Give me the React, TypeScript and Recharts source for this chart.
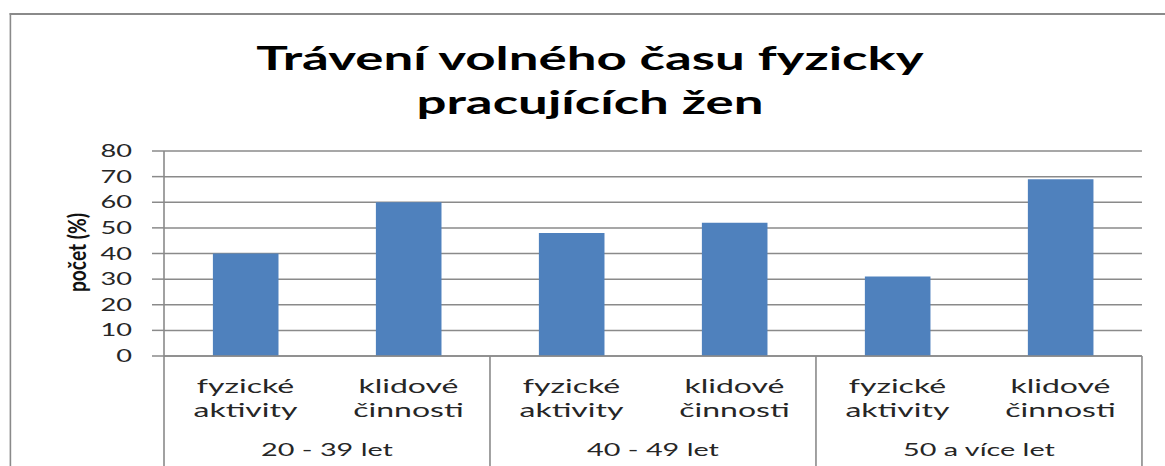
import { Bar, BarChart, CartesianGrid, XAxis, YAxis } from "recharts";

// the source picture is stretched sideways, so the chart is drawn narrow and widened with CSS
const STRETCH = 1.6;
const FULL_W = 1165;
const FULL_H = 466;
const CHART_W = FULL_W / STRETCH;
const Y_AXIS_W = 102.5;
const RIGHT_PAD = 14.4;
const X_AXIS_H = 110;
const TOP_PAD = 151;

const activityLines = [
  ["fyzické", "aktivity"],
  ["klidové", "činnosti"],
];
const ageGroups = ["20 - 39 let", "40 - 49 let", "50 a více let"];
const shares = [40, 60, 48, 52, 31, 69];
const yTicks = [0, 10, 20, 30, 40, 50, 60, 70, 80];

const data = ageGroups.flatMap((group, gi) =>
  activityLines.map((lines, ai) => ({
    key: `${gi}-${ai}`,
    lines,
    group,
    first: ai === 0,
    last: gi === ageGroups.length - 1 && ai === activityLines.length - 1,
    value: shares[gi * activityLines.length + ai],
  }))
);

const plotW = CHART_W - Y_AXIS_W - RIGHT_PAD;
const band = plotW / data.length;
const lineColor = "#8a8a8a";
const textColor = "#262626";
const font = "Lato, 'Open Sans', sans-serif";

function CategoryTick(props: any) {
  const { x, y, payload } = props;
  const d = data[payload?.index ?? props.index];
  if (!d) return null;
  return (
    <g>
      <text x={x} y={y + 37} textAnchor="middle" fill={textColor} fontSize={20} fontFamily={font}>
        {d.lines[0]}
      </text>
      <text x={x} y={y + 61} textAnchor="middle" fill={textColor} fontSize={20} fontFamily={font}>
        {d.lines[1]}
      </text>
      {d.first && (
        <>
          <line x1={x - band / 2} x2={x - band / 2} y1={y} y2={y + X_AXIS_H} stroke={lineColor} strokeWidth={1} />
          <text x={x + band / 2} y={y + 100} textAnchor="middle" fill={textColor} fontSize={18} fontFamily={font}>
            {d.group}
          </text>
        </>
      )}
      {d.last && (
        <line x1={x + band / 2} x2={x + band / 2} y1={y} y2={y + X_AXIS_H} stroke={lineColor} strokeWidth={1} />
      )}
    </g>
  );
}

function AxisTitle() {
  const cx = 47.5;
  const cy = 252.5;
  return (
    <text
      transform={`translate(${cx},${cy}) rotate(-90) scale(1.2,1)`}
      textAnchor="middle"
      dominantBaseline="central"
      fill="#111"
      fontSize={16}
      fontWeight={700}
      fontFamily={font}
    >
      počet (%)
    </text>
  );
}

export default function App() {
  return (
    <div
      style={{
        position: "absolute",
        left: 0,
        top: 0,
        width: FULL_W,
        height: FULL_H,
        overflow: "hidden",
        background: "#fff",
      }}
    >
      <div
        style={{
          position: "relative",
          width: CHART_W,
          height: FULL_H,
          transform: `scaleX(${STRETCH})`,
          transformOrigin: "0 0",
        }}
      >
        <div
          style={{
            position: "absolute",
            left: 6.3,
            top: 13,
            width: CHART_W + 20,
            height: FULL_H + 20,
            borderLeft: `1.5px solid ${lineColor}`,
            borderTop: `2px solid ${lineColor}`,
          }}
        />
        <div
          style={{
            position: "absolute",
            left: 590 / STRETCH - 300,
            width: 600,
            top: 35,
            textAlign: "center",
            fontFamily: font,
            fontWeight: 700,
            fontSize: 33,
            lineHeight: "44px",
            color: "#000",
          }}
        >
          Trávení volného času fyzicky
          <br />
          pracujících žen
        </div>
        <div style={{ position: "absolute", left: 0, top: 0 }}>
          <BarChart
            width={CHART_W}
            height={FULL_H}
            data={data}
            margin={{ top: TOP_PAD, right: RIGHT_PAD, bottom: 0, left: 0 }}
            barCategoryGap="30%"
          >
            <CartesianGrid vertical={false} stroke={lineColor} strokeWidth={1.5} />
            <XAxis
              dataKey="key"
              height={X_AXIS_H}
              interval={0}
              tickLine={false}
              tickSize={0}
              tickMargin={0}
              axisLine={{ stroke: lineColor, strokeWidth: 1.5 }}
              tick={<CategoryTick />}
            />
            <YAxis
              width={Y_AXIS_W}
              domain={[0, 80]}
              ticks={yTicks}
              interval={0}
              tickSize={7.5}
              tickMargin={12.5}
              tickLine={{ stroke: lineColor, strokeWidth: 1.5 }}
              axisLine={{ stroke: lineColor, strokeWidth: 1 }}
              tick={{ fill: textColor, fontSize: 17, fontFamily: font }}
              label={<AxisTitle />}
            />
            <Bar dataKey="value" fill="#4f81bd" isAnimationActive={false} />
          </BarChart>
        </div>
      </div>
    </div>
  );
}
